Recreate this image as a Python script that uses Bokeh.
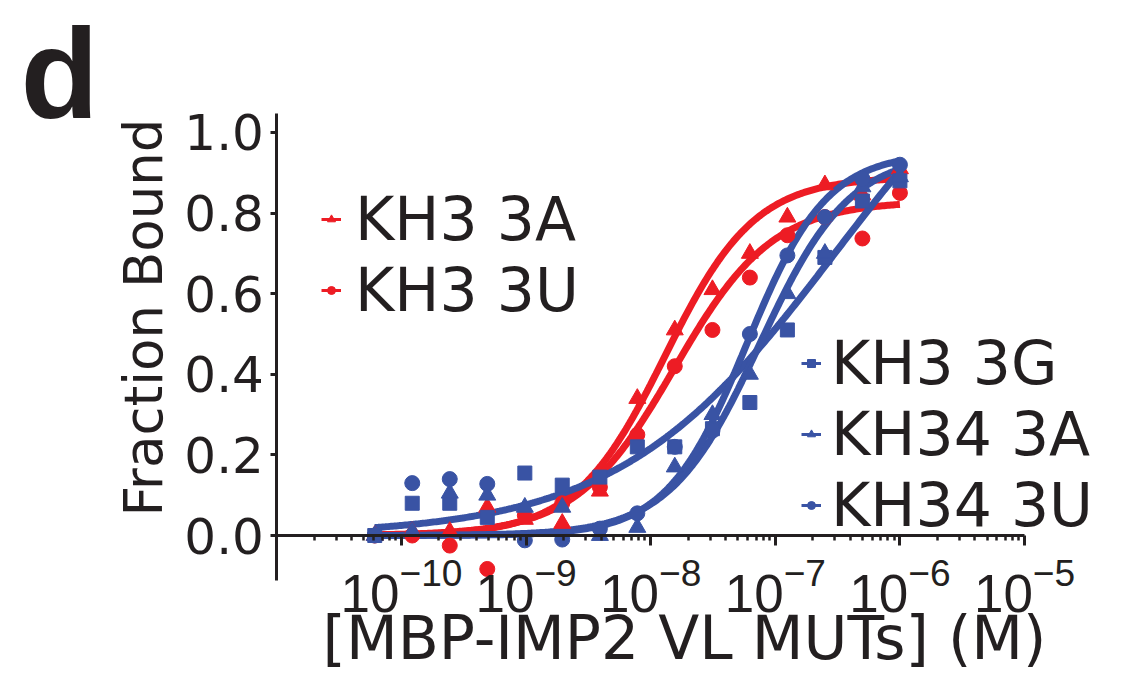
import numpy as np
from bokeh.plotting import figure
from bokeh.models import (Range1d, FixedTicker, LogTickFormatter, NumeralTickFormatter,
                          Legend, LegendItem, Label)
from bokeh.embed import file_html
from bokeh.resources import INLINE

# ---------------- data ----------------
conc = [6.1e-11, 1.22e-10, 2.44e-10, 4.88e-10, 9.77e-10, 1.95e-9, 3.91e-9, 7.81e-9,
        1.56e-8, 3.13e-8, 6.25e-8, 1.25e-7, 2.5e-7, 5e-7, 1e-6]

kh3_3a = [0.0, 0.01, 0.01, 0.07, 0.04, 0.03, 0.11, 0.34, 0.51, 0.61, 0.70, 0.79, 0.87, 0.845, 0.91]
kh3_3u = [0.0, 0.0, -0.025, -0.083, 0.05, 0.08, 0.12, 0.25, 0.42, 0.51, 0.64, 0.745, 0.79, 0.737, 0.85]
kh3_3g = [0.0, 0.08, 0.08, 0.045, 0.155, 0.125, 0.145, 0.22, 0.22, 0.265, 0.33, 0.51, 0.69, 0.83, 0.88]
kh34_3a = [0.0, 0.01, 0.105, 0.10, 0.07, 0.07, 0.0, 0.02, 0.17, 0.30, 0.40, 0.60, 0.70, 0.865, 0.89]
kh34_3u = [0.0, 0.13, 0.14, 0.128, -0.012, -0.01, 0.017, 0.055, 0.22, 0.26, 0.50, 0.695, 0.79, 0.885, 0.92]

# Hill-fit parameters (Bmax, Kd, n)
fit_kh3_3a = (0.89, 1.3e-8, 1.2)
fit_kh3_3u = (0.83, 1.55e-8, 1.1)
fit_kh3_3g = (1.4, 3.0e-7, 0.5)
fit_kh34_3a = (0.95, 7.5e-8, 1.2)
fit_kh34_3u = (0.95, 5.9e-8, 1.35)

labels = ["KH3 3A", "KH3 3U", "KH3 3G", "KH34 3A", "KH34 3U"]
x_ticks = [1e-10, 1e-9, 1e-8, 1e-7, 1e-6, 1e-5]
y_ticks = [0.0, 0.2, 0.4, 0.6, 0.8, 1.0]

RED = "#ED1C24"
BLUE = "#3953A4"
INK = "#231F20"
FONT = "DejaVu Sans"

W, H = 1111, 673
p = figure(width=W, height=H, x_axis_type="log",
           x_range=Range1d(10 ** -13.218, 10 ** -4.302), y_range=Range1d(-0.3424, 1.3275),
           output_backend="svg", toolbar_location=None,
           min_border_left=0, min_border_right=0, min_border_top=0, min_border_bottom=0)
p.title.visible = False
p.outline_line_color = None
p.grid.visible = False
p.background_fill_color = "white"

xs = np.logspace(np.log10(conc[0]), np.log10(conc[-1]), 300)


def hill(params):
    b, k, n = params
    return b * xs ** n / (k ** n + xs ** n)


series = [
    (kh3_3a, fit_kh3_3a, RED, "triangle", 17),
    (kh3_3u, fit_kh3_3u, RED, "circle", 15),
    (kh3_3g, fit_kh3_3g, BLUE, "square", 14),
    (kh34_3a, fit_kh34_3a, BLUE, "triangle", 17),
    (kh34_3u, fit_kh34_3u, BLUE, "circle", 15),
]

for ys, fit, col, mk, sz in series:
    p.line(xs, hill(fit), line_color=col, line_width=7)
for ys, fit, col, mk, sz in series:
    p.scatter(conc, ys, marker=mk, size=sz, fill_color=col, line_color=col)

# legend proxies (hidden on the plot, drawn only as legend glyphs)
legend_items = []
for (ys, fit, col, mk, sz), lab in zip(series, labels):
    lr = p.line(conc, ys, line_color=col, line_width=3, visible=False)
    sr = p.scatter(conc, ys, marker=mk, size=14, fill_color=col, line_color=col, visible=False)
    legend_items.append(LegendItem(label=lab, renderers=[lr, sr]))

common = dict(padding=0, margin=0, border_line_color=None, background_fill_alpha=0,
              inactive_fill_alpha=0,
              label_text_font=FONT, label_text_font_size="60px", label_text_color=INK,
              glyph_width=20, glyph_height=20, label_height=20, spacing=0)
# one legend per entry so that the row spacing matches the reference
legend_locs = [(321, 419), (321, 348), (801, 275), (801, 204), (801, 133)]
legend_standoff = [14, 14, 10, 10, 10]
for item, loc, so in zip(legend_items, legend_locs, legend_standoff):
    p.add_layout(Legend(items=[item], location=loc, label_standoff=so, **common), "center")

# axes (fixed in data space, bounded like the reference)
xa = p.xaxis[0]
xa.fixed_location = 0
xa.bounds = (1e-11, 1e-5)
xa.ticker = FixedTicker(ticks=x_ticks,
                        minor_ticks=[m * 10.0 ** e for e in range(-11, -5) for m in range(2, 10)])
xa.formatter = LogTickFormatter()
xa.axis_line_width = 3
xa.axis_line_color = INK
xa.major_tick_line_width = 3
xa.major_tick_line_color = INK
xa.minor_tick_line_width = 2.5
xa.minor_tick_line_color = INK
xa.major_tick_in = 0
xa.major_tick_out = 10
xa.minor_tick_in = 0
xa.minor_tick_out = 5
xa.major_label_standoff = 12
xa.major_label_text_font = "Liberation Sans"
xa.major_label_text_font_size = "53px"
xa.major_label_text_color = INK

ya = p.yaxis[0]
ya.fixed_location = 1e-11
ya.bounds = (-0.112, 1.047)
ya.ticker = FixedTicker(ticks=y_ticks)
ya.formatter = NumeralTickFormatter(format="0.0")
ya.axis_line_width = 3
ya.axis_line_color = INK
ya.major_tick_line_width = 3
ya.major_tick_line_color = INK
ya.major_tick_in = 0
ya.major_tick_out = 6
ya.minor_tick_line_color = None
ya.major_label_standoff = 7
ya.major_label_text_font = FONT
ya.major_label_text_font_size = "50px"
ya.major_label_text_color = INK

# axis titles and panel letter (screen units = canvas px from bottom-left)
p.add_layout(Label(x=143, y=356, x_units="screen", y_units="screen", angle=np.pi / 2,
                   text="Fraction Bound", text_font=FONT, text_font_size="53px",
                   text_align="center", text_baseline="alphabetic", text_color=INK))
p.add_layout(Label(x=684, y=36, x_units="screen", y_units="screen",
                   text="[MBP-IMP2 VL MUTs] (M)", text_font=FONT, text_font_size="60px",
                   text_align="center", text_baseline="alphabetic", text_color=INK))
p.add_layout(Label(x=20, y=600, x_units="screen", y_units="screen",
                   text="d", text_font="Liberation Sans", text_font_size="128px",
                   text_font_style="bold",
                   text_align="left", text_baseline="alphabetic", text_color=INK))

open("out.html", "w").write(file_html(p, INLINE))
